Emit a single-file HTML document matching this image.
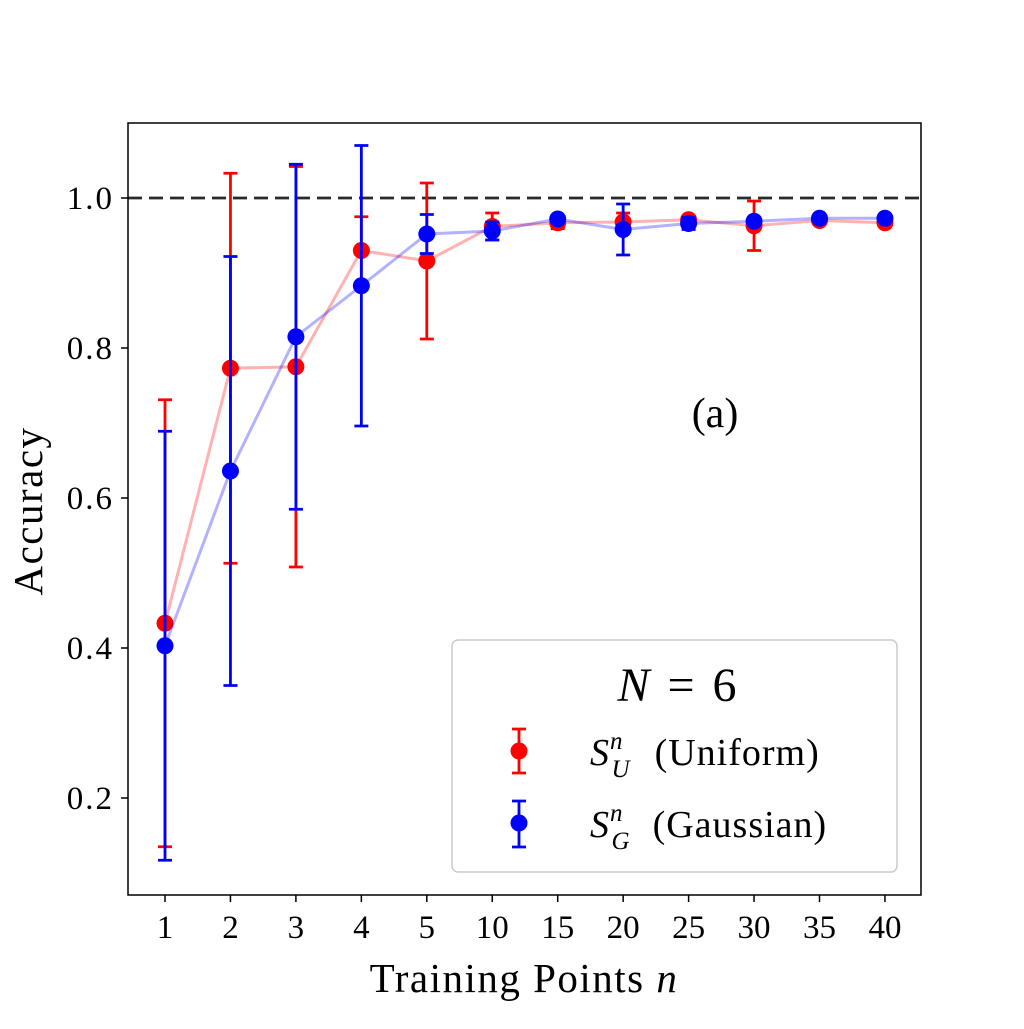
<!DOCTYPE html>
<html><head><meta charset="utf-8"><style>
body{margin:0;background:#fff}
svg text{font-family:"Liberation Serif",serif;fill:#000}
</style></head><body>
<svg width="1024" height="1024" xmlns="http://www.w3.org/2000/svg">
<rect x="0" y="0" width="1024" height="1024" fill="#fff"/>
<g id="plot"></g>
</svg>
<script>
const categories=["1","2","3","4","5","10","15","20","25","30","35","40"];
const redMeans=[0.433,0.773,0.775,0.930,0.916,0.962,0.967,0.968,0.971,0.963,0.970,0.967];
const redErr=[0.298,0.26,0.267,0.045,0.104,0.018,0.008,0.012,0.005,0.033,0.004,0.004];
const blueMeans=[0.403,0.636,0.815,0.883,0.952,0.956,0.972,0.958,0.966,0.969,0.973,0.973];
const blueErr=[0.286,0.286,0.23,0.187,0.026,0.012,0.004,0.034,0.008,0.005,0.003,0.003];
const yTicks=[0.2,0.4,0.6,0.8,1.0];
const yTickLabels=["0.2","0.4","0.6","0.8","1.0"];

const NS="http://www.w3.org/2000/svg";
const g=document.getElementById('plot');
const L=128,R=921,T=123,B=895;
function xs(i){return 165+i*65.45;}
function ys(v){return 198+(1-v)*750;}
function mk(tag,attrs,parent){const e=document.createElementNS(NS,tag);for(const k in attrs)e.setAttribute(k,attrs[k]);(parent||g).appendChild(e);return e;}

let e=mk('line',{x1:L,x2:R,y1:ys(1),y2:ys(1),stroke:'#2a2a2a',"stroke-width":2.8,"stroke-dasharray":"14,7"});



function series(means,errs,lineColor,color,name){
  const pts=means.map((m,i)=>xs(i)+','+ys(m)).join(' ');
  let pl=mk('polyline',{points:pts,fill:'none',stroke:lineColor,"stroke-width":3});
  
  
  means.forEach((m,i)=>{
    const x=xs(i),y1=ys(m+errs[i]),y2=ys(m-errs[i]);
    let eb=mk('path',{d:`M${x},${y1}V${y2}M${x-7},${y1}H${x+7}M${x-7},${y2}H${x+7}`,stroke:color,"stroke-width":2.8,fill:'none'});
    
    
  });
  means.forEach((m,i)=>{
    let c=mk('circle',{cx:xs(i),cy:ys(m),r:8.5,fill:color});
    
    
  });
}
series(redMeans,redErr,'rgba(255,0,0,0.3)','#f00','uniform');
series(blueMeans,blueErr,'rgba(0,0,255,0.3)','#00f','gaussian');

e=mk('rect',{x:L,y:T,width:R-L,height:B-T,fill:'none',stroke:'#000',"stroke-width":1.5});



yTicks.forEach((v,i)=>{
  let t=mk('line',{x1:L-7,x2:L,y1:ys(v),y2:ys(v),stroke:'#000',"stroke-width":1.5});
  
  
  let tx=mk('text',{x:L-14,y:ys(v)+11,"text-anchor":"end","font-size":33,"letter-spacing":"2"});
  tx.textContent=yTickLabels[i];
  
  
});
categories.forEach((c,i)=>{
  let t=mk('line',{x1:xs(i),x2:xs(i),y1:B,y2:B+7,stroke:'#000',"stroke-width":1.5});
  
  
  let tx=mk('text',{x:xs(i),y:B+43,"text-anchor":"middle","font-size":33});
  tx.textContent=c;
  
  
});
</script>
<svg style="position:absolute;left:0;top:0" width="1024" height="1024" xmlns="http://www.w3.org/2000/svg">
<text x="524" y="992" text-anchor="middle" font-size="41" letter-spacing="1.5">Training Points <tspan font-style="italic">n</tspan></text>
<text transform="translate(42,511) rotate(-90)" text-anchor="middle" font-size="41" letter-spacing="1.5">Accuracy</text>
<text x="715" y="427" text-anchor="middle" font-size="42">(a)</text>
<g>
<rect x="452" y="640" width="445" height="232" rx="6" fill="#fff" fill-opacity="0.8" stroke="#ccc" stroke-width="1.5"/>
<text x="677" y="701" text-anchor="middle" font-size="48"><tspan font-style="italic">N</tspan> <tspan dx="6">=</tspan> <tspan dx="6">6</tspan></text>
<g>
<path d="M519,729V773M512,729H526M512,773H526" stroke="#f00" stroke-width="2.8"/>
<circle cx="519" cy="751" r="8.5" fill="#f00"/>
<text x="590" y="765" font-size="38" letter-spacing="1"><tspan font-style="italic">S</tspan><tspan font-size="25" dy="-16" font-style="italic">n</tspan><tspan font-size="25" dx="-12" dy="28" font-style="italic">U</tspan><tspan dy="-12" dx="24">(Uniform)</tspan></text>
</g>
<g>
<path d="M519,801V847M512,801H526M512,847H526" stroke="#00f" stroke-width="2.8"/>
<circle cx="519" cy="823" r="8.5" fill="#00f"/>
<text x="590" y="837" font-size="38" letter-spacing="1"><tspan font-style="italic">S</tspan><tspan font-size="25" dy="-16" font-style="italic">n</tspan><tspan font-size="25" dx="-12" dy="28" font-style="italic">G</tspan><tspan dy="-12" dx="22">(Gaussian)</tspan></text>
</g>
</g>
</svg>
</body></html>
